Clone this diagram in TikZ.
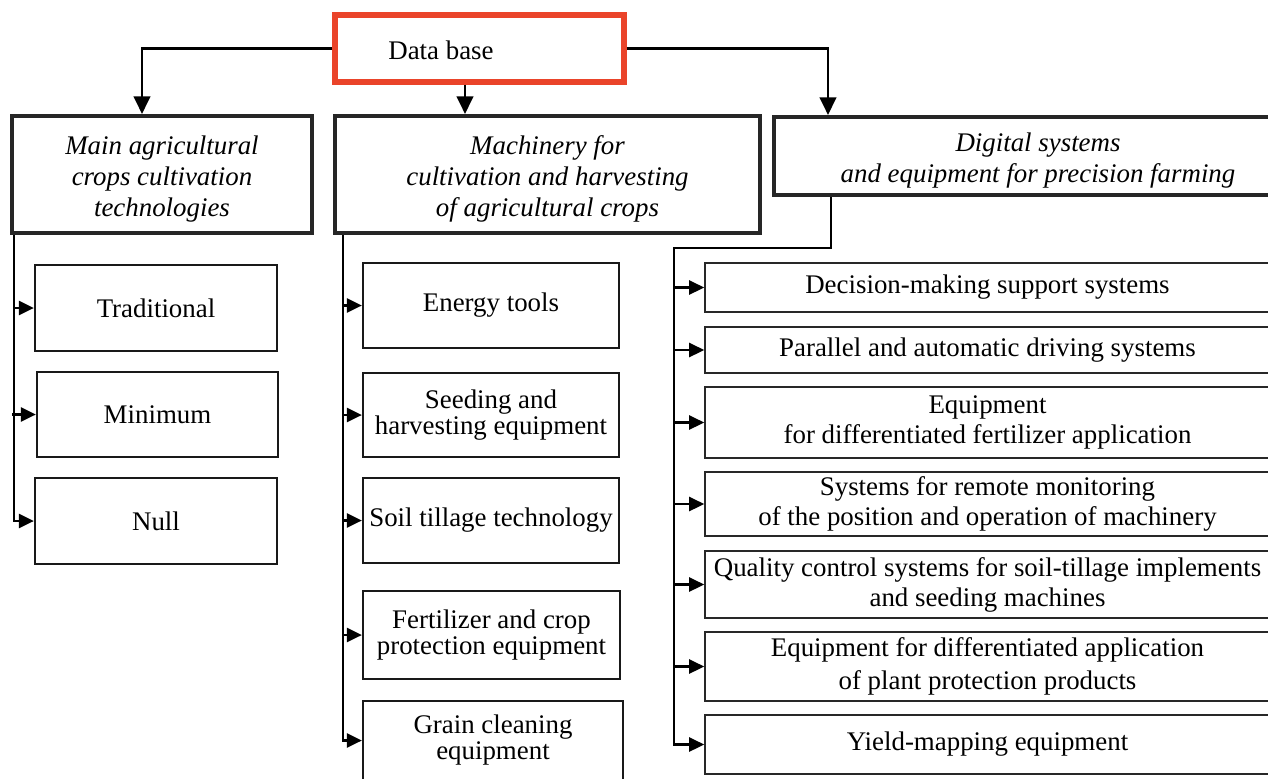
\documentclass[tikz,border=0pt]{standalone}
\usepackage{fontspec}
\setmainfont{Liberation Serif}
\usetikzlibrary{fit,arrows.meta}
\definecolor{dbred}{RGB}{234,68,42}
\definecolor{rgray}{RGB}{40,40,40}
\begin{document}
\begin{tikzpicture}[x=0.02cm,y=-0.02cm,
  txt/.style={font=\fontsize{15.3}{17}\selectfont, align=center, inner sep=0pt},
  itxt/.style={font=\fontsize{15.3}{17.6}\selectfont\itshape, align=center, inner sep=0pt, yshift=-2.5pt},
  mtxt/.style={font=\fontsize{15.3}{14.8}\selectfont, align=center, inner sep=0pt},
  ptxt/.style={font=\fontsize{15.3}{19}\selectfont, align=center, inner sep=0pt},
  redbox/.style={draw=dbred, line width=3pt, inner sep=0pt},
  bigbox/.style={draw=black!85, line width=2.4pt, inner sep=0pt},
  sbox/.style={draw=black!90, line width=1.3pt, inner sep=0pt},
  rbox/.style={draw=rgray, line width=0.95pt, inner sep=0pt},
  conn/.style={line width=1.3pt, black},
  topar/.style={conn, -{Triangle[length=10pt,width=9.5pt]}},
  sidear/.style={conn, -{Triangle[length=8.5pt,width=8pt]}}]
\useasboundingbox (0,0) rectangle (1268,778);
\clip (0,0) rectangle (1268,778);
\fill[white] (0,0) rectangle (1268,778);

% top
\node[redbox, fit={(335,15)(624,82)}] (db) {};
\node[txt] (dbt) at (441,50) {Data base};

\node[bigbox, fit={(12,116)(312,233)}, label={[itxt]center:Main agricultural\\crops cultivation\\technologies}] (A) {};
\node[bigbox, fit={(335,116)(760,233)}, label={[itxt]center:Machinery for\\cultivation and harvesting\\of agricultural crops}] (B) {};
\node[bigbox, fit={(774,117)(1302,195)}, label={[itxt]center:Digital systems\\and equipment for precision farming}] (C) {};

\coordinate (kA) at (142,0);
\coordinate (kB) at (465,0);
\coordinate (kR) at (828,0);
\draw[topar] (db.west) -| (A.north -| kA);
\draw[topar] (db.south -| kB) -- (B.north -| kB);
\draw[topar] (db.east) -| (C.north -| kR);

% left column
\node[sbox, fit={(35,265)(277,351)}, label={[txt]center:Traditional}] (trad) {};
\node[sbox, fit={(37,372)(278,457)}, label={[txt]center:Minimum}] (mini) {};
\node[sbox, fit={(35,478)(277,564)}, label={[txt]center:Null}] (nul) {};
\coordinate (tA) at (14,0);
\coordinate (tB) at (343,0);
\draw[sidear] (A.south -| tA) |- (nul.west);
\draw[sidear] (trad.west -| tA) -- (trad.west);
\draw[sidear] ([xshift=-0.04cm]mini.west -| tA) -- (mini.west);

% middle column
\node[sbox, fit={(363,263)(619,348)}, label={[txt]center:Energy tools}] (energy) {};
\node[sbox, fit={(363,373)(619,457)}, label={[mtxt]center:Seeding and\\harvesting equipment}] (seed) {};
\node[sbox, fit={(363,478)(619,563)}, label={[txt]center:Soil tillage technology}] (soil) {};
\node[sbox, fit={(363,591)(620,679)}, label={[mtxt]center:Fertilizer and crop\\protection equipment}] (fert) {};
\node[sbox, fit={(363,701)(623,780)}, label={[mtxt]center:Grain cleaning\\equipment}] (grain) {};
\draw[sidear] (B.south -| tB) |- (grain.west);
\foreach \n in {energy,seed,soil,fert}
  \draw[sidear] (\n.west -| tB) -- (\n.west);

% right column
\node[rbox, fit={(705,263)(1270,312)}, label={[txt]center:Decision-making support systems}] (dec) {};
\node[rbox, fit={(705,327)(1270,373)}, label={[txt]center:Parallel and automatic driving systems}] (par) {};
\node[rbox, fit={(705,387)(1270,458)}, label={[txt]center:Equipment\\for differentiated fertilizer application}] (efa) {};
\node[rbox, fit={(705,472)(1270,536)}, label={[txt]center:Systems for remote monitoring\\of the position and operation of machinery}] (rem) {};
\node[rbox, fit={(705,551)(1270,618)}, label={[txt]center:Quality control systems for soil-tillage implements\\and seeding machines}] (qual) {};
\node[rbox, fit={(705,632)(1270,701)}, label={[ptxt]center:Equipment for differentiated application\\of plant protection products}] (ppp) {};
\node[rbox, fit={(705,715)(1270,774)}, label={[txt]center:Yield-mapping equipment}] (yield) {};
\coordinate (kC) at (831,0);
\coordinate (tC) at (674,248);
\draw[sidear] (C.south -| kC) |- (tC) |- (yield.west);
\foreach \n in {dec,par,efa,rem,qual,ppp}
  \draw[sidear] (\n.west -| tC) -- (\n.west);
\end{tikzpicture}
\end{document}
